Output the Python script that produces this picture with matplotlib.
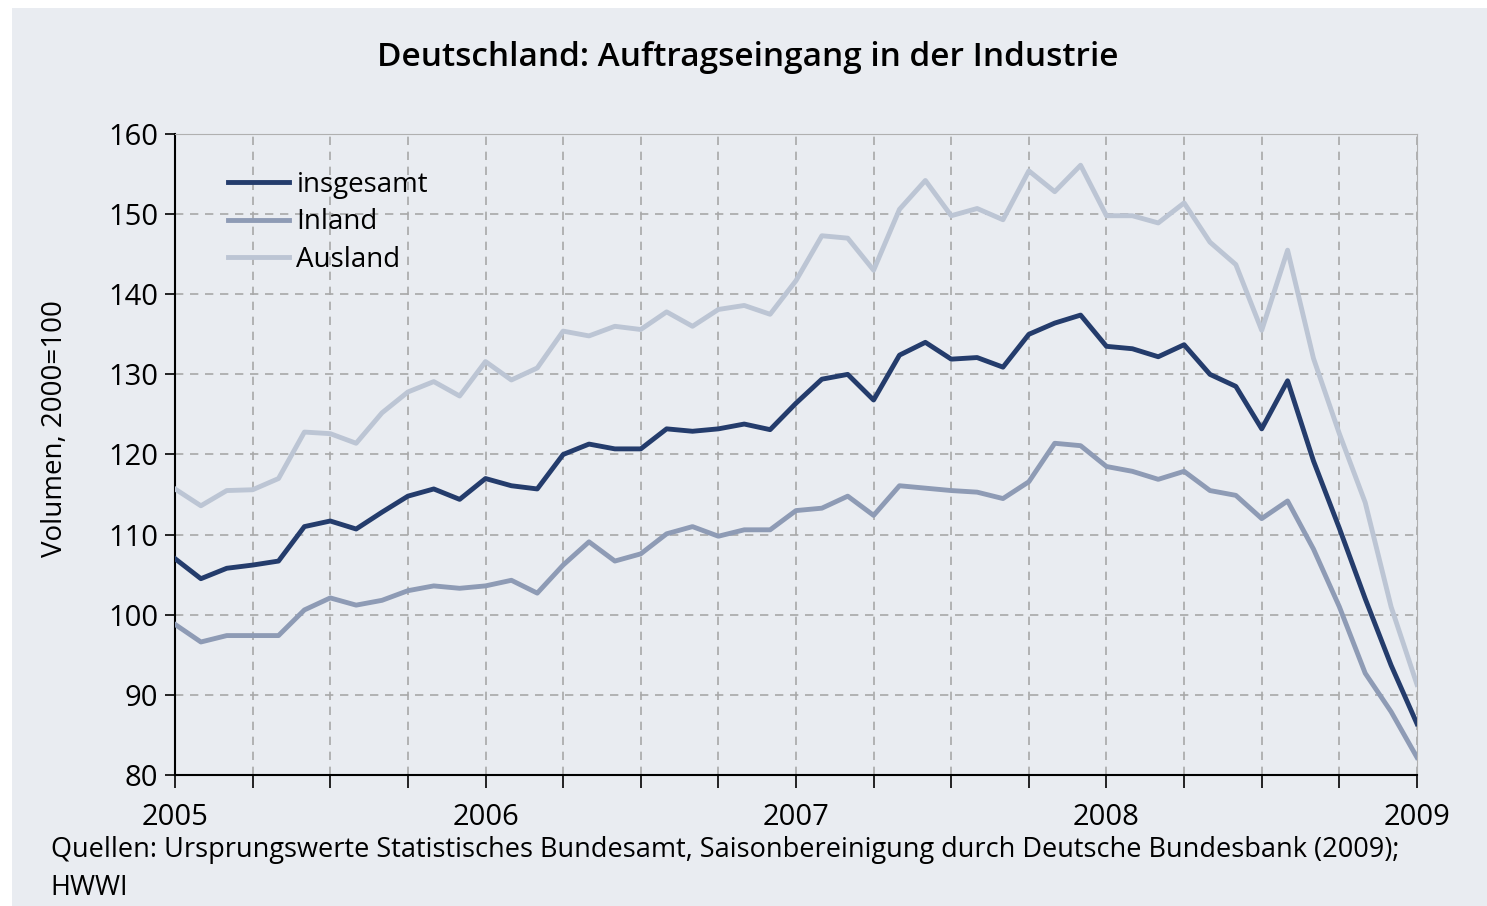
import numpy as np
import matplotlib.pyplot as plt
from matplotlib.patches import Rectangle

# monthly values Jan 2005 .. Jan 2009 (2000=100)
insgesamt = [107.0, 104.5, 105.8, 106.2, 106.7, 111.0, 111.7, 110.7, 112.8, 114.8, 115.7, 114.4,
             117.0, 116.1, 115.7, 120.0, 121.3, 120.7, 120.7, 123.2, 122.9, 123.2, 123.8, 123.1,
             126.4, 129.4, 130.0, 126.8, 132.4, 134.0, 131.9, 132.1, 130.9, 135.0, 136.4, 137.4,
             133.5, 133.2, 132.2, 133.7, 130.0, 128.5, 123.2, 129.2, 119.2, 110.8, 102.0, 93.7,
             86.4]
inland = [98.8, 96.6, 97.4, 97.4, 97.4, 100.6, 102.1, 101.2, 101.8, 103.0, 103.6, 103.3,
          103.6, 104.3, 102.7, 106.2, 109.1, 106.7, 107.6, 110.1, 111.0, 109.8, 110.6, 110.6,
          113.0, 113.3, 114.8, 112.4, 116.1, 115.8, 115.5, 115.3, 114.5, 116.6, 121.4, 121.1,
          118.5, 117.9, 116.9, 117.9, 115.5, 114.9, 112.0, 114.2, 108.2, 101.0, 92.7, 87.9,
          82.2]
ausland = [115.7, 113.6, 115.5, 115.6, 117.0, 122.8, 122.6, 121.4, 125.2, 127.8, 129.1, 127.3,
           131.6, 129.3, 130.8, 135.4, 134.8, 136.0, 135.6, 137.8, 136.0, 138.1, 138.6, 137.5,
           141.7, 147.3, 147.0, 143.0, 150.6, 154.2, 149.8, 150.7, 149.3, 155.4, 152.8, 156.1,
           149.8, 149.8, 148.9, 151.4, 146.5, 143.7, 135.5, 145.5, 132.0, 122.6, 114.0, 101.0,
           91.3]
years = ['2005', '2006', '2007', '2008', '2009']

bg = '#e9ecf1'
plt.rcParams['font.family'] = ['Open Sans', 'DejaVu Sans']

fig = plt.figure(figsize=(14.87, 9.06), dpi=100, facecolor='white')
# light panel behind everything, white strip on top and left like the source
fig.add_artist(Rectangle((12 / 1487, 0), 1, 1 - 8 / 906, transform=fig.transFigure,
                         facecolor=bg, edgecolor='none', zorder=-10))
ax = fig.add_axes([0.1177, 0.1446, 0.8352, 0.7075], facecolor=bg)

months = np.arange(len(insgesamt))
ax.plot(months, ausland, color='#bcc5d4', lw=3.5, label='Ausland', zorder=3)
ax.plot(months, inland, color='#8e9bb5', lw=3.5, label='Inland', zorder=3)
ax.plot(months, insgesamt, color='#243c6c', lw=3.5, label='insgesamt', zorder=4)

ax.set_xlim(0, 48)
ax.set_ylim(80, 160)
ax.set_yticks(range(80, 161, 10))
ax.set_xticks(range(0, 49, 3))
ax.set_xticklabels([years[i // 12] if i % 12 == 0 else '' for i in range(0, 49, 3)])
ax.tick_params(axis='x', length=9, width=1.2, pad=11, labelsize=21)
ax.tick_params(axis='y', length=7, width=1.2, pad=5, labelsize=21)
ax.grid(True, color='#a8a8a8', ls=(0, (5, 4)), lw=1.2)
ax.set_axisbelow(True)

for s in ['top', 'right']:
    ax.spines[s].set_color('#b0b0b0')
for s in ['left', 'bottom']:
    ax.spines[s].set_linewidth(1.5)

ax.set_ylabel('Volumen, 2000=100', fontsize=20)
ax.yaxis.set_label_coords(-0.085, 0.541)

handles, labels = ax.get_legend_handles_labels()
ax.legend(handles[::-1], labels[::-1], loc='upper left', bbox_to_anchor=(0.034, 0.96),
          frameon=False, fontsize=20, handlelength=2.2, handletextpad=0.25,
          labelspacing=0.35, borderaxespad=0)

fig.text(0.503, 0.937, 'Deutschland: Auftragseingang in der Industrie', ha='center',
         va='center', fontsize=24, fontweight='semibold')
fig.text(0.034, 0.062, 'Quellen: Ursprungswerte Statistisches Bundesamt, Saisonbereinigung durch '
         'Deutsche Bundesbank (2009);', fontsize=19.5, va='center')
fig.text(0.034, 0.020, 'HWWI', fontsize=19.5, va='center')

fig.savefig('out.png', dpi=100, facecolor='white')
